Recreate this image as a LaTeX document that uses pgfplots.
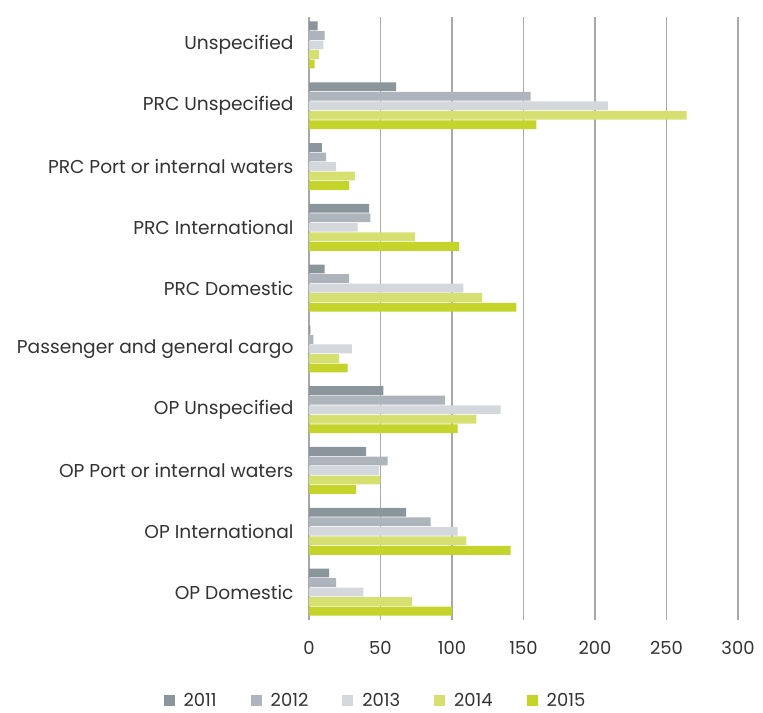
\documentclass[border=0pt]{standalone}
\usepackage{pgfplots}
\pgfplotsset{compat=1.18}
\usepackage{fontspec}
\setmainfont{Poppins}
\definecolor{cA}{HTML}{8A959C}
\definecolor{cB}{HTML}{ADB4BC}
\definecolor{cC}{HTML}{D4D8DC}
\definecolor{cD}{HTML}{D6E070}
\definecolor{cE}{HTML}{C5D42B}
\definecolor{gridc}{HTML}{A8A8A8}
\definecolor{txt}{HTML}{333333}
\begin{document}
\begin{tikzpicture}
\begin{axis}[name=ax,
    scale only axis,
    width=429bp, height=603bp,
    xbar, bar width=0.145,
    xmin=0, xmax=300,
    ymin=-0.46, ymax=9.46,
    y dir=reverse,
    xtick={0,50,...,300},
    ytick={0,...,9},
    yticklabels={Unspecified,PRC Unspecified,PRC Port or internal waters,PRC International,PRC Domestic,Passenger and general cargo,OP Unspecified,OP Port or internal waters,OP International,OP Domestic},
    major tick length=0pt,
    axis line style={draw=none},
    xmajorgrids,
    grid style={gridc, line width=1.5bp},
    tick label style={font=\fontsize{18}{21}\selectfont, text=txt},
    yticklabel style={font=\fontsize{18.7}{22}\selectfont, xshift=-12bp},
    /pgf/number format/assume math mode=true,
    xticklabel style={yshift=-18bp},
    legend style={at={(0.155,-0.133)}, anchor=center, draw=none,
        legend columns=-1, font=\fontsize{18}{21}\selectfont, text=txt,
        /tikz/every odd column/.append style={column sep=7bp},
        /tikz/every even column/.append style={column sep=32bp}},
    legend image code/.code={\fill[#1] (0bp,-5.5bp) rectangle (11bp,5.5bp);},
]
\addplot[draw=none, fill=cA, bar shift=-0.314] coordinates {
(6,0) (61,1) (9,2) (42,3) (11,4) (1,5) (52,6) (40,7) (68,8) (14,9)};
\addplot[draw=none, fill=cB, bar shift=-0.157] coordinates {
(11,0) (155,1) (12,2) (43,3) (28,4) (3,5) (95,6) (55,7) (85,8) (19,9)};
\addplot[draw=none, fill=cC, bar shift=0] coordinates {
(10,0) (209,1) (19,2) (34,3) (108,4) (30,5) (134,6) (49,7) (104,8) (38,9)};
\addplot[draw=none, fill=cD, bar shift=0.157] coordinates {
(7,0) (264,1) (32,2) (74,3) (121,4) (21,5) (117,6) (50,7) (110,8) (72,9)};
\addplot[draw=none, fill=cE, bar shift=0.314] coordinates {
(4,0) (159,1) (28,2) (105,3) (145,4) (27,5) (104,6) (33,7) (141,8) (100,9)};
\legend{2011,2012,2013,2014,2015}
\end{axis}
\pgfresetboundingbox
\path (ax.south west)+(-309bp,-93bp) coordinate (bl);
\path (ax.north east)+(25bp,17bp) coordinate (tr);
\path[use as bounding box] (bl) rectangle (tr);
\end{tikzpicture}
\end{document}
